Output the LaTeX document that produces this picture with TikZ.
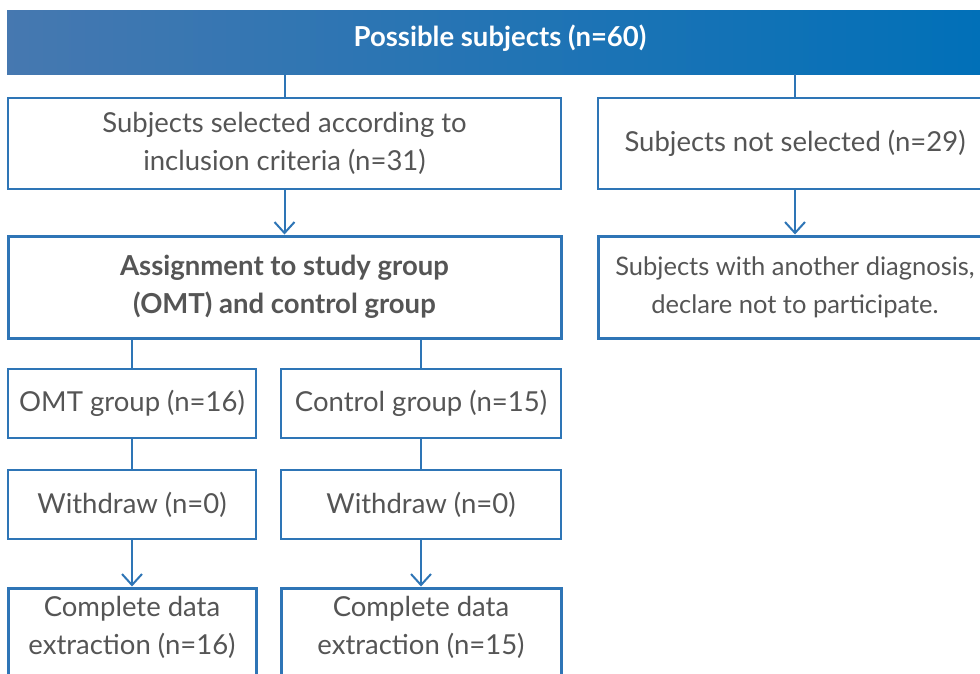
\documentclass[tikz,border=0pt]{standalone}
\usepackage{fontspec}
\setmainfont{Lato}
\usetikzlibrary{arrows.meta,positioning}
\definecolor{flowblue}{RGB}{46,117,182}
\definecolor{barstart}{RGB}{70,120,176}
\definecolor{barend}{RGB}{0,112,184}
\definecolor{txtgray}{RGB}{85,85,85}

\tikzset{
  box/.style={draw=flowblue, line width=1.3pt, fill=white, text=txtgray, align=center,
    inner sep=0pt, font=\fontsize{27.5}{38}\selectfont},
  thickbox/.style={box, line width=3pt},
  txt/.style={text=txtgray, align=center, inner sep=0pt, font=\fontsize{27.5}{38}\selectfont},
  link/.style={draw=flowblue, line width=2pt},
  arrow/.style={link, -{Straight Barb[length=11pt,width=20pt,line width=2pt]}},
}

\begin{document}
\begin{tikzpicture}[x=1pt,y=-1pt]
    \useasboundingbox (0,0) rectangle (980,673);
    \clip (0,0) rectangle (980,673);
    % header
    \node[minimum width=986pt, minimum height=64pt, left color=barstart, right color=barend,
          text height=20.6pt, text depth=11.5pt,
          text=white, font=\fontsize{27.5}{30}\selectfont\bfseries] (top) at (500,42) {Possible subjects (n=60)};
    % selection
    \node[box, minimum width=553pt, minimum height=91pt] (sel) at (284.5,143.5)
        {Subjects selected according to\\inclusion criteria (n=31)};
    \node[box, minimum width=394pt, minimum height=91pt] (nosel) at (795,143.5)
        {Subjects not selected (n=29)};
    \node[thickbox, minimum width=553pt, minimum height=102pt, font=\fontsize{27.5}{38}\selectfont\bfseries] (assign) at (284.5,287)
        {Assignment to study group\\(OMT) and control group};
    \node[thickbox, minimum width=394pt, minimum height=102pt, font=\fontsize{25.5}{38}\selectfont] (other) at (795,287)
        {Subjects with another diagnosis,\\declare not to participate.};
    % groups
    \node[box, minimum width=248pt, minimum height=69pt] (omt) at (132,403.5) {OMT group (n=16)};
    \node[box, minimum width=280pt, minimum height=69pt] (ctrl) at (421,403.5) {Control group (n=15)};
    \node[box, minimum width=248pt, minimum height=69pt] (wd1) at (132,504.5) {Withdraw (n=0)};
    \node[box, minimum width=280pt, minimum height=69pt] (wd2) at (421,504.5) {Withdraw (n=0)};
    \node[thickbox, minimum width=248pt, minimum height=120pt] (done1) at (132,648) {};
    \node[thickbox, minimum width=280pt, minimum height=120pt] (done2) at (421,648) {};
    \node[txt] (done1txt) at (132,627.5) {Complete data\\extraction (n=16)};
    \node[txt] (done2txt) at (421,627.5) {Complete data\\extraction (n=15)};
    % connectors
    \draw[link] (top.south -| sel.north) -- (sel.north);
    \draw[link] (top.south -| nosel.north) -- (nosel.north);
    \draw[arrow] (sel) -- (assign);
    \draw[arrow] (nosel) -- (other);
    \draw[link] (assign.south -| omt.north) -- (omt.north);
    \draw[link] (assign.south -| ctrl.north) -- (ctrl.north);
    \draw[link] (omt) -- (wd1);
    \draw[link] (ctrl) -- (wd2);
    \draw[arrow] (wd1) -- (done1);
    \draw[arrow] (wd2) -- (done2);
\end{tikzpicture}
\end{document}
